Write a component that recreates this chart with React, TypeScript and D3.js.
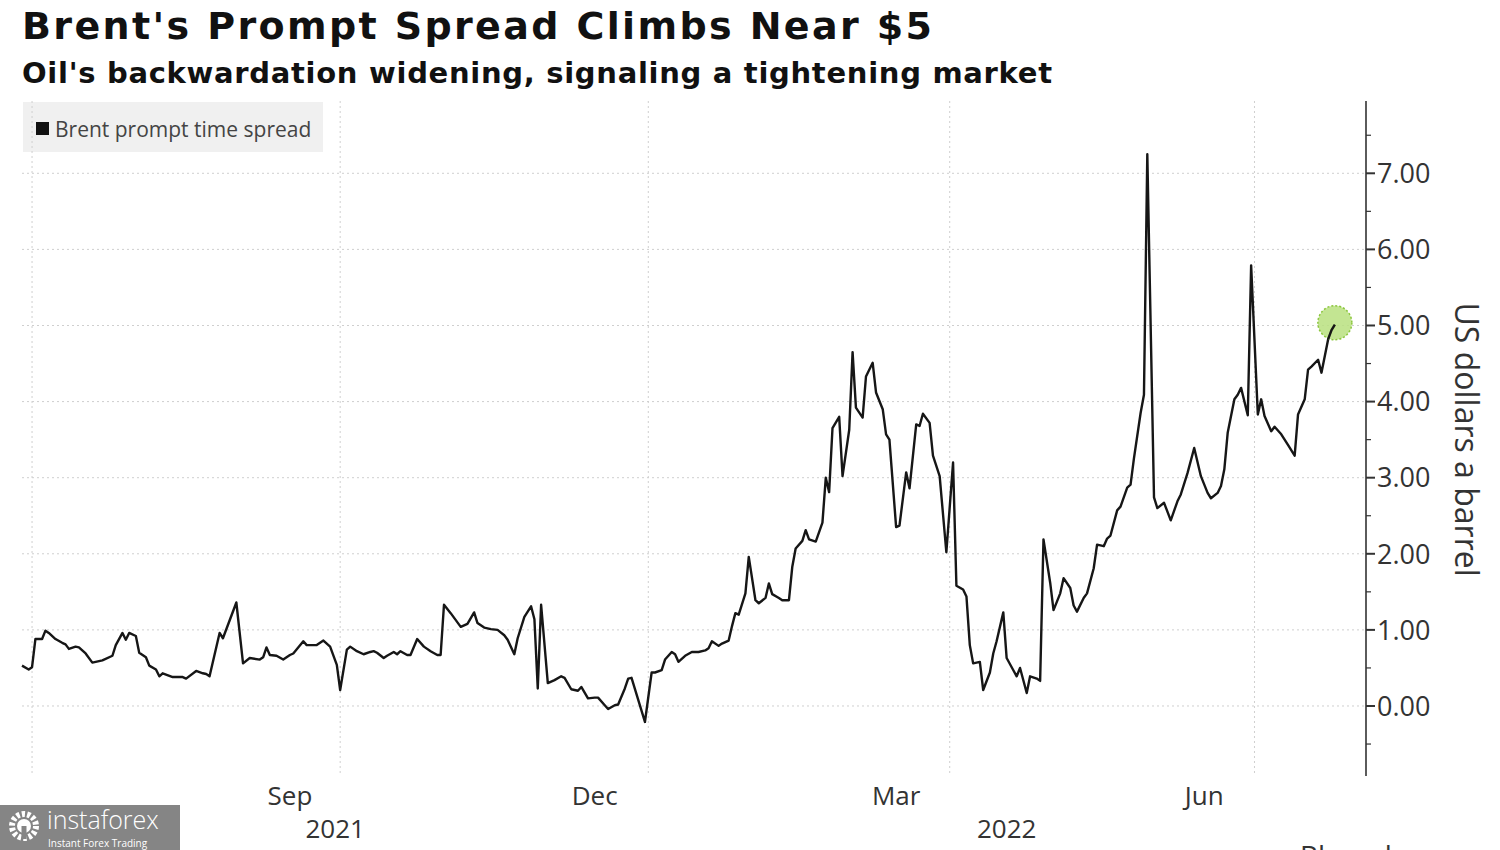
import * as d3 from 'd3'

// Brent prompt time spread, US$ a barrel
const dates = [
  '2021-06-28', '2021-06-30', '2021-07-01', '2021-07-02', '2021-07-04', '2021-07-05', '2021-07-06', '2021-07-08',
  '2021-07-10', '2021-07-11', '2021-07-12', '2021-07-14', '2021-07-15', '2021-07-17', '2021-07-19', '2021-07-22',
  '2021-07-25', '2021-07-26', '2021-07-28', '2021-07-29', '2021-07-30', '2021-08-01', '2021-08-02', '2021-08-04',
  '2021-08-05', '2021-08-07', '2021-08-08', '2021-08-09', '2021-08-12', '2021-08-14', '2021-08-15', '2021-08-16',
  '2021-08-19', '2021-08-21', '2021-08-22', '2021-08-23', '2021-08-26', '2021-08-27', '2021-08-31', '2021-09-02',
  '2021-09-04', '2021-09-07', '2021-09-08', '2021-09-09', '2021-09-10', '2021-09-12', '2021-09-14', '2021-09-16',
  '2021-09-17', '2021-09-20', '2021-09-21', '2021-09-24', '2021-09-26', '2021-09-28', '2021-09-30', '2021-10-01',
  '2021-10-03', '2021-10-04', '2021-10-06', '2021-10-08', '2021-10-10', '2021-10-11', '2021-10-12', '2021-10-14',
  '2021-10-15', '2021-10-17', '2021-10-18', '2021-10-19', '2021-10-21', '2021-10-22', '2021-10-24', '2021-10-26',
  '2021-10-28', '2021-10-30', '2021-10-31', '2021-11-01', '2021-11-03', '2021-11-06', '2021-11-08', '2021-11-10',
  '2021-11-11', '2021-11-13', '2021-11-15', '2021-11-17', '2021-11-19', '2021-11-20', '2021-11-22', '2021-11-23',
  '2021-11-25', '2021-11-27', '2021-11-28', '2021-11-29', '2021-11-30', '2021-12-02', '2021-12-04', '2021-12-06',
  '2021-12-07', '2021-12-09', '2021-12-11', '2021-12-12', '2021-12-14', '2021-12-16', '2021-12-17', '2021-12-19',
  '2021-12-20', '2021-12-22', '2021-12-23', '2021-12-25', '2021-12-26', '2021-12-27', '2021-12-31', '2022-01-02',
  '2022-01-03', '2022-01-05', '2022-01-06', '2022-01-08', '2022-01-09', '2022-01-10', '2022-01-12', '2022-01-14',
  '2022-01-16', '2022-01-18', '2022-01-19', '2022-01-20', '2022-01-22', '2022-01-23', '2022-01-25', '2022-01-26',
  '2022-01-27', '2022-01-28', '2022-01-30', '2022-01-31', '2022-02-02', '2022-02-03', '2022-02-05', '2022-02-06',
  '2022-02-07', '2022-02-09', '2022-02-10', '2022-02-12', '2022-02-13', '2022-02-14', '2022-02-16', '2022-02-17',
  '2022-02-18', '2022-02-20', '2022-02-22', '2022-02-23', '2022-02-24', '2022-02-25', '2022-02-27', '2022-02-28',
  '2022-03-02', '2022-03-03', '2022-03-04', '2022-03-06', '2022-03-07', '2022-03-09', '2022-03-10', '2022-03-12',
  '2022-03-13', '2022-03-14', '2022-03-16', '2022-03-17', '2022-03-19', '2022-03-20', '2022-03-22', '2022-03-23',
  '2022-03-24', '2022-03-26', '2022-03-27', '2022-03-29', '2022-03-31', '2022-04-02', '2022-04-03', '2022-04-05',
  '2022-04-06', '2022-04-07', '2022-04-08', '2022-04-10', '2022-04-11', '2022-04-13', '2022-04-14', '2022-04-15',
  '2022-04-17', '2022-04-18', '2022-04-20', '2022-04-21', '2022-04-22', '2022-04-24', '2022-04-25', '2022-04-27',
  '2022-04-28', '2022-04-29', '2022-05-01', '2022-05-02', '2022-05-04', '2022-05-05', '2022-05-07', '2022-05-08',
  '2022-05-09', '2022-05-11', '2022-05-12', '2022-05-14', '2022-05-15', '2022-05-17', '2022-05-18', '2022-05-19',
  '2022-05-21', '2022-05-22', '2022-05-24', '2022-05-25', '2022-05-26', '2022-05-28', '2022-05-29', '2022-05-30',
  '2022-06-01', '2022-06-02', '2022-06-04', '2022-06-06', '2022-06-08', '2022-06-09', '2022-06-11', '2022-06-13',
  '2022-06-15', '2022-06-17', '2022-06-18', '2022-06-20', '2022-06-21', '2022-06-22', '2022-06-23', '2022-06-25',
  '2022-06-26', '2022-06-27', '2022-06-29', '2022-06-30', '2022-07-02', '2022-07-03', '2022-07-04', '2022-07-06',
  '2022-07-07', '2022-07-09', '2022-07-11', '2022-07-13', '2022-07-14', '2022-07-16', '2022-07-17', '2022-07-18',
  '2022-07-20', '2022-07-21', '2022-07-23', '2022-07-24', '2022-07-25',
]

const spread = [
  0.53, 0.48, 0.51, 0.88, 0.88, 0.99, 0.96, 0.88,
  0.83, 0.81, 0.75, 0.78, 0.77, 0.69, 0.57, 0.60,
  0.66, 0.80, 0.96, 0.87, 0.96, 0.92, 0.70, 0.64,
  0.53, 0.48, 0.39, 0.43, 0.38, 0.38, 0.38, 0.36,
  0.46, 0.43, 0.42, 0.39, 0.96, 0.89, 1.36, 0.56,
  0.63, 0.61, 0.64, 0.77, 0.67, 0.66, 0.61, 0.67,
  0.69, 0.85, 0.80, 0.80, 0.86, 0.78, 0.54, 0.21,
  0.74, 0.78, 0.72, 0.68, 0.71, 0.72, 0.70, 0.63,
  0.66, 0.71, 0.68, 0.72, 0.67, 0.67, 0.88, 0.78,
  0.72, 0.67, 0.67, 1.33, 1.22, 1.04, 1.08, 1.23,
  1.09, 1.03, 1.01, 1.00, 0.93, 0.87, 0.68, 0.89,
  1.17, 1.31, 1.14, 0.23, 1.33, 0.30, 0.34, 0.39,
  0.37, 0.22, 0.20, 0.25, 0.10, 0.11, 0.11, 0.01,
  -0.04, 0.01, 0.02, 0.23, 0.36, 0.37, -0.21, 0.44,
  0.44, 0.47, 0.61, 0.71, 0.68, 0.58, 0.66, 0.71,
  0.71, 0.73, 0.76, 0.85, 0.79, 0.82, 0.86, 1.05,
  1.22, 1.20, 1.48, 1.96, 1.39, 1.35, 1.42, 1.61,
  1.47, 1.42, 1.39, 1.39, 1.83, 2.07, 2.17, 2.31,
  2.19, 2.16, 2.41, 3.00, 2.81, 3.65, 3.80, 3.02,
  3.63, 4.65, 3.92, 3.79, 4.33, 4.51, 4.12, 3.90,
  3.57, 3.50, 2.35, 2.37, 3.07, 2.86, 3.70, 3.68,
  3.84, 3.72, 3.29, 3.02, 2.02, 3.20, 1.58, 1.53,
  1.44, 0.80, 0.56, 0.58, 0.21, 0.44, 0.69, 0.85,
  1.23, 0.63, 0.47, 0.39, 0.50, 0.17, 0.39, 0.36,
  0.33, 2.19, 1.62, 1.26, 1.48, 1.68, 1.55, 1.32,
  1.24, 1.42, 1.48, 1.81, 2.12, 2.10, 2.20, 2.24,
  2.57, 2.62, 2.87, 2.91, 3.25, 3.85, 4.09, 7.25,
  2.74, 2.60, 2.67, 2.44, 2.69, 2.78, 3.06, 3.39,
  3.02, 2.80, 2.73, 2.80, 2.89, 3.11, 3.59, 4.03,
  4.09, 4.18, 3.82, 5.79, 3.83, 4.03, 3.81, 3.61,
  3.67, 3.57, 3.43, 3.29, 3.83, 4.03, 4.42, 4.46,
  4.55, 4.38, 4.82, 4.94, 5.01,
]

const yTicks = [0, 1, 2, 3, 4, 5, 6, 7]
const yMinorTicks = [-0.5, 0.5, 1.5, 2.5, 3.5, 4.5, 5.5, 6.5, 7.5]
const quarterStarts = ['2021-07-01', '2021-10-01', '2022-01-01', '2022-04-01', '2022-07-01']
const monthLabels = ['Sep', 'Dec', 'Mar', 'Jun']
const monthLabelDates = ['2021-09-16', '2021-12-16', '2022-03-16', '2022-06-16']
const yearLabels = ['2021', '2022']
const yearSpans = [['2021-06-28', '2022-01-01'], ['2022-01-01', '2022-08-03']]
const xDomain = ['2021-06-28', '2022-08-03']

const title = "Brent's Prompt Spread Climbs Near $5"
const subtitle = "Oil's backwardation widening, signaling a tightening market"
const legendLabel = 'Brent prompt time spread'
const yAxisTitle = 'US dollars a barrel'

const width = 1500
const height = 850
const plot = { left: 22, right: 1365, top: 101, bottom: 776 }

const sans = '"Open Sans", "Noto Sans", sans-serif'
const bold = '"DejaVu Sans", Verdana, sans-serif'

export default function App() {
  const parse = d3.timeParse('%Y-%m-%d')
  const data = dates.map((d, i) => ({ date: parse(d) as Date, value: spread[i] }))

  const x = d3.scaleTime()
    .domain(xDomain.map(d => parse(d) as Date))
    .range([plot.left, plot.right])

  const y = d3.scaleLinear()
    .domain([-0.92, 7.95])
    .range([plot.bottom, plot.top])

  const line = d3.line<{ date: Date; value: number }>()
    .x(d => x(d.date))
    .y(d => y(d.value))

  const last = data[data.length - 1]

  return (
    <div style={{ position: 'absolute', left: 0, top: 0 }}>
      <svg width={width} height={height} style={{ display: 'block', background: '#fff' }}>
        {/* title */}
        <text x={22} y={39} fontFamily={bold} fontWeight="bold" fontSize={38} fill="#111"
          textLength={910} lengthAdjust="spacing">{title}</text>
        <text x={22} y={83} fontFamily={bold} fontWeight="bold" fontSize={29} fill="#111"
          textLength={1030} lengthAdjust="spacing">{subtitle}</text>

        {/* legend */}
        <rect x={23} y={102} width={300} height={50} fill="#f0f0f0" />
        <rect x={36} y={122} width={13} height={13} fill="#111" />
        <text x={55} y={137} fontFamily={sans} fontSize={21} fill="#444">{legendLabel}</text>

        {/* grid */}
        <g stroke="#cfcfcf" strokeWidth={1} strokeDasharray="2,3">
          {yTicks.map(t => (
            <line key={'h' + t} x1={plot.left} x2={plot.right} y1={y(t)} y2={y(t)} />
          ))}
          {quarterStarts.map(d => (
            <line key={'v' + d} x1={x(parse(d) as Date)} x2={x(parse(d) as Date)} y1={plot.top} y2={plot.bottom} />
          ))}
        </g>

        {/* right axis */}
        <g fill="#333">
          <line x1={1366} x2={1366} y1={plot.top} y2={plot.bottom} stroke="#333" strokeWidth={1.6} />
          {yMinorTicks.map(t => (
            <line key={'m' + t} x1={1366} x2={1371} y1={y(t)} y2={y(t)} stroke="#333" strokeWidth={1.2} />
          ))}
          {yTicks.map(t => (
            <g key={'t' + t}>
              <line x1={1366} x2={1375} y1={y(t)} y2={y(t)} stroke="#333" strokeWidth={2} />
              <text x={1377} y={y(t)} dy="0.36em" fontFamily={sans} fontSize={27}>{d3.format('.2f')(t)}</text>
            </g>
          ))}
          <text transform={`translate(1455,${y(3.5)}) rotate(90)`} textAnchor="middle"
            fontFamily={sans} fontSize={32}>{yAxisTitle}</text>
        </g>

        {/* x labels */}
        <g fill="#333" fontFamily={sans} textAnchor="middle">
          {monthLabels.map((m, i) => (
            <text key={m} x={x(parse(monthLabelDates[i]) as Date)} y={805} fontSize={26}>{m}</text>
          ))}
          {yearLabels.map((yr, i) => (
            <text key={yr} x={(x(parse(yearSpans[i][0]) as Date) + x(parse(yearSpans[i][1]) as Date)) / 2}
              y={838} fontSize={26}>{yr}</text>
          ))}
        </g>

        {/* series */}
        <path d={line(data) ?? ''} fill="none" stroke="#161616" strokeWidth={2.4} strokeLinejoin="round" />
        <circle cx={x(last.date)} cy={y(last.value) - 2} r={17} fill="#b9e07f" fillOpacity={0.85}
          stroke="#8cc63f" strokeWidth={1.5} strokeDasharray="2,2" />
        <path d={line(data.slice(-3)) ?? ''} fill="none" stroke="#161616" strokeWidth={2.4} strokeLinejoin="round" />

        {/* source, cut at the bottom edge as in the original */}
        <text x={1300} y={866} fontFamily={sans} fontSize={28} fill="#333">Bloomberg</text>

        {/* watermark */}
        <g>
          <rect x={0} y={805} width={180} height={45} fill="#858585" />
          <circle cx={24} cy={826} r={12} fill="none" stroke="#fff" strokeWidth={6} strokeDasharray="3.2,2.2" />
          <circle cx={24} cy={826} r={7} fill="#fff" />
          <rect x={21.5} y={826} width={5} height={13} fill="#858585" />
          <text x={47} y={829} fontFamily={sans} fontWeight={300} fontSize={25} fill="#fff">instaforex</text>
          <text x={48} y={847} fontFamily={sans} fontSize={10} fill="#fff">Instant Forex Trading</text>
        </g>
      </svg>
    </div>
  )
}
